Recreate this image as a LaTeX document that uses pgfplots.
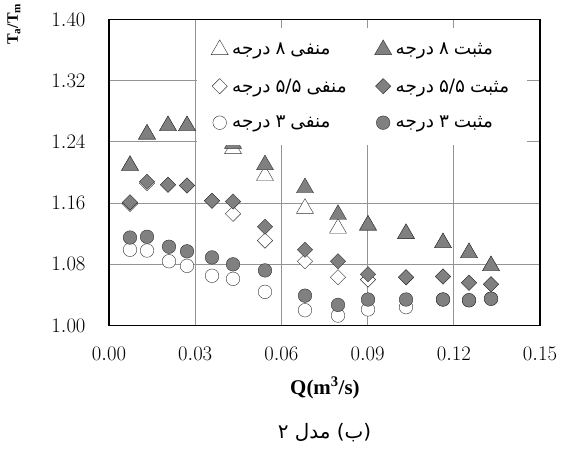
\documentclass[border=0pt]{standalone}
\usepackage{pgfplots}
\pgfplotsset{compat=1.18}
\usepackage{fontspec}
\newfontfamily\arabicfont[Script=Arabic]{DejaVu Sans}
\newfontfamily\timesfont{Liberation Serif}
\TeXXeTstate=1
\newcommand{\fa}[1]{{\arabicfont\beginR #1\endR}}
\newcommand{\wsp}{\hspace{5bp}}
\newcommand{\legL}[1]{\makebox[121bp][l]{\arabicfont\beginR #1\endR}}
\newcommand{\legR}[1]{{\arabicfont\beginR #1\endR}}
\definecolor{mkfill}{HTML}{808080}
\definecolor{mkdraw}{HTML}{303030}
\begin{document}
\begin{tikzpicture}
\path (-109bp,-128bp) rectangle (454bp,323bp);
\begin{axis}[
  name=ax, at={(0,0)}, anchor=south west,
  scale only axis, width=431bp, height=306bp,
  xmin=0, xmax=0.15, ymin=1.0, ymax=1.4,
  xtick={0,0.03,0.06,0.09,0.12,0.15},
  ytick={1.00,1.08,1.16,1.24,1.32,1.40},
  scaled x ticks=false, scaled y ticks=false,
  major tick length=0pt,
  grid=major,
  major grid style={draw=black!42, line width=0.9bp},
  axis line style={line width=1.6bp, black},
  x tick label style={/pgf/number format/.cd, fixed, fixed zerofill, precision=2, /tikz/.cd, font=\fontsize{20}{24}\selectfont, yshift=-18bp},
  y tick label style={/pgf/number format/.cd, fixed, fixed zerofill, precision=2, /tikz/.cd, font=\fontsize{20}{24}\selectfont, xshift=-20bp},
  xlabel={\timesfont\bfseries Q(m\textsuperscript{3}/s)},
  xlabel style={at={(axis description cs:0.501,-0.203)}, anchor=center, font=\fontsize{21}{24}\selectfont},
  ylabel={\timesfont\bfseries T\textsubscript{a}/T\textsubscript{m}},
  ylabel style={at={(axis description cs:-0.2204,0.985)}, anchor=center, font=\fontsize{16}{18}\selectfont},
  legend columns=2,
  legend cell align=left,
  legend style={at={(axis description cs:0.2042,0.9739)}, anchor=north west, draw=none, fill=white,
    inner xsep=14bp, inner ysep=12bp, row sep=16.5bp,
    nodes={inner ysep=2bp, inner xsep=4bp, minimum height=20bp, font=\fontsize{18.5}{20}\selectfont},
    /tikz/every even column/.append style={column sep=17.5bp}},
  every axis plot/.append style={only marks, mark options={line width=0.9bp}},
]
% -8 (empty triangles)
\addplot[mark=triangle*, mark size=9.8bp, mark options={fill=white, draw=mkdraw}] coordinates {
(0.00731,1.209) (0.01323,1.250) (0.02053,1.261) (0.02715,1.261) (0.04316,1.231) (0.05429,1.196)
(0.06821,1.153) (0.07970,1.127) (0.09014,1.131) (0.10337,1.120) (0.11624,1.108) (0.12529,1.095) (0.13295,1.078)};
\addlegendentry{\legL{منفی\wsp ۸\wsp درجه}}
% +8 (filled triangles)
\addplot[mark=triangle*, mark size=9.8bp, mark options={fill=mkfill, draw=mkdraw}] coordinates {
(0.00731,1.209) (0.01323,1.250) (0.02053,1.261) (0.02715,1.261) (0.04316,1.238) (0.05429,1.210)
(0.06821,1.180) (0.07970,1.145) (0.09014,1.131) (0.10337,1.120) (0.11624,1.108) (0.12529,1.095) (0.13295,1.078)};
\addlegendentry{\legR{مثبت\wsp ۸\wsp درجه}}
% -5.5 (empty diamonds)
\addplot[mark=square*, mark size=5.4bp, mark options={fill=white, draw=mkdraw, rotate=45}] coordinates {
(0.00731,1.159) (0.01323,1.186) (0.02053,1.184) (0.02715,1.183) (0.03585,1.163) (0.04316,1.146) (0.05429,1.111)
(0.06821,1.084) (0.07970,1.063) (0.09014,1.060) (0.10337,1.063) (0.11624,1.064) (0.12529,1.056) (0.13295,1.054)};
\addlegendentry{\legL{منفی\wsp ۵/۵\wsp درجه}}
% +5.5 (filled diamonds)
\addplot[mark=square*, mark size=5.4bp, mark options={fill=mkfill, draw=mkdraw, rotate=45}] coordinates {
(0.00731,1.161) (0.01323,1.188) (0.02053,1.184) (0.02715,1.183) (0.03585,1.163) (0.04316,1.162) (0.05429,1.129)
(0.06821,1.099) (0.07970,1.084) (0.09014,1.067) (0.10337,1.063) (0.11624,1.064) (0.12529,1.056) (0.13295,1.054)};
\addlegendentry{\legR{مثبت\wsp ۵/۵\wsp درجه}}
% -3 (empty circles)
\addplot[mark=*, mark size=6.8bp, mark options={fill=white, draw=mkdraw}] coordinates {
(0.00731,1.099) (0.01323,1.098) (0.02088,1.084) (0.02715,1.078) (0.03585,1.065) (0.04316,1.061) (0.05429,1.044)
(0.06821,1.020) (0.07970,1.013) (0.09014,1.021) (0.10337,1.024) (0.11624,1.034) (0.12529,1.033) (0.13295,1.035)};
\addlegendentry{\legL{منفی\wsp ۳\wsp درجه}}
% +3 (filled circles)
\addplot[mark=*, mark size=6.8bp, mark options={fill=mkfill, draw=mkdraw}] coordinates {
(0.00731,1.115) (0.01323,1.116) (0.02088,1.103) (0.02715,1.097) (0.03585,1.089) (0.04316,1.080) (0.05429,1.072)
(0.06821,1.039) (0.07970,1.027) (0.09014,1.034) (0.10337,1.034) (0.11624,1.034) (0.12529,1.033) (0.13295,1.035)};
\addlegendentry{\legR{مثبت\wsp ۳\wsp درجه}}
\end{axis}
\node[font=\fontsize{20}{24}\selectfont] at ([yshift=-107bp]ax.south) {\fa{(ب) مدل ۲}};
\end{tikzpicture}
\end{document}
